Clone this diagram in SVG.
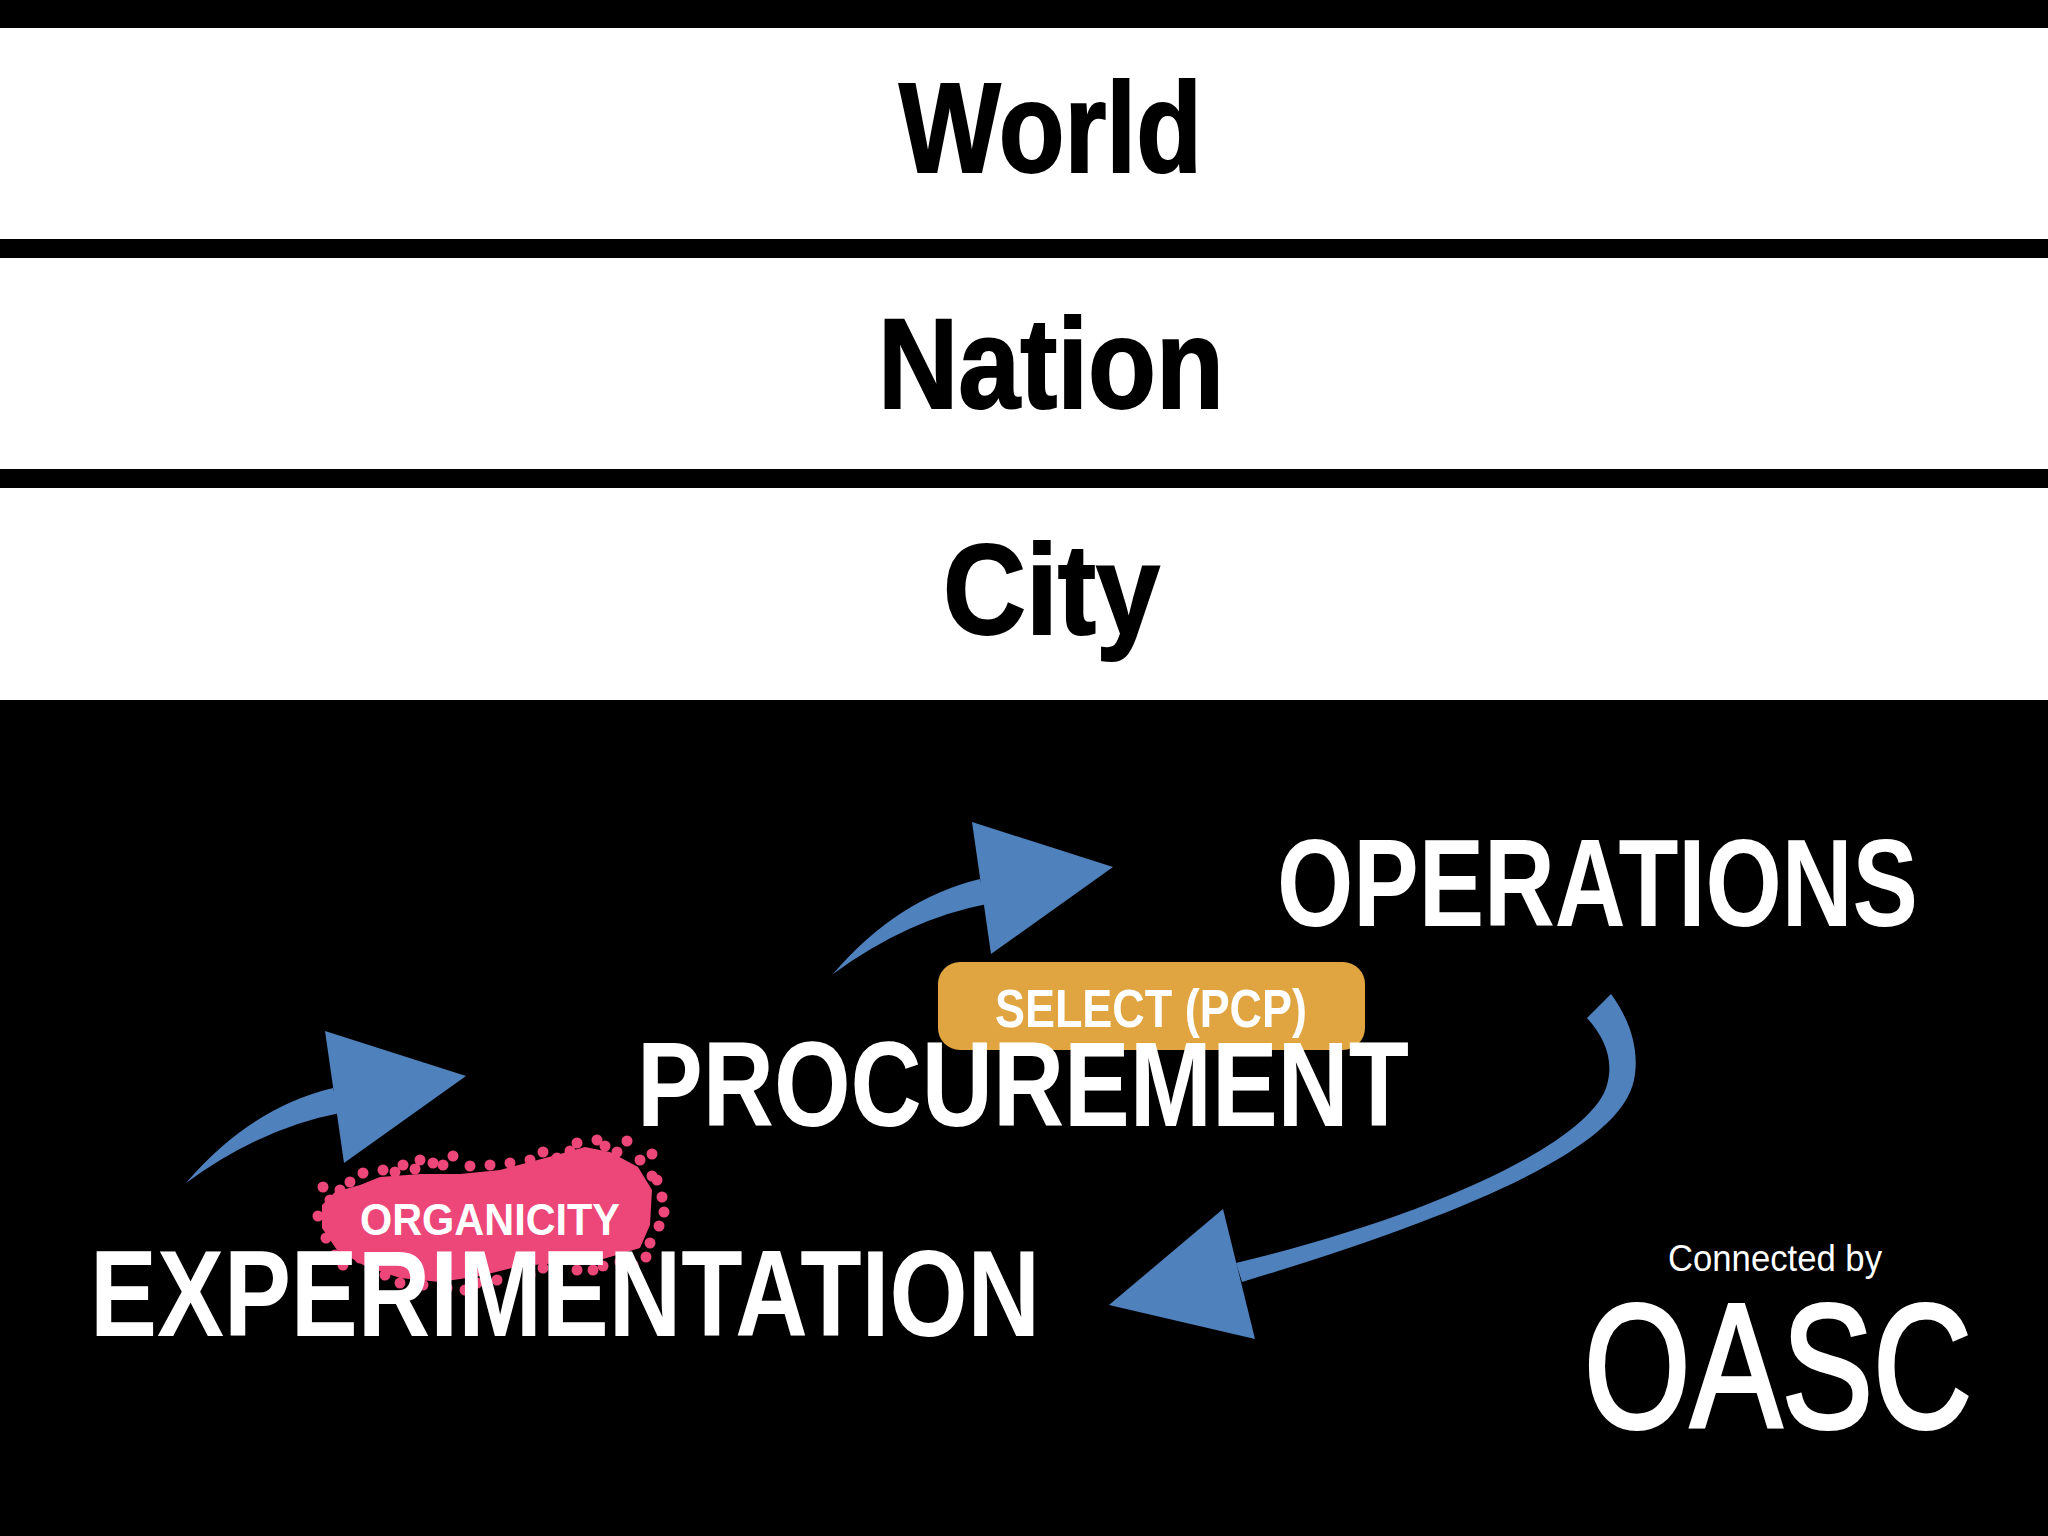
<svg xmlns="http://www.w3.org/2000/svg" xmlns:xlink="http://www.w3.org/1999/xlink" width="2048" height="1536" viewBox="0 0 2048 1536">
<style>
.band{fill:#ffffff}
.head{font-family:"Liberation Sans",Arial,sans-serif;font-weight:bold;font-size:128px;fill:#000000;stroke:#000000;stroke-width:2}
.big{font-family:"Liberation Sans",Arial,sans-serif;font-weight:bold;fill:#ffffff}
.thin{font-family:"Liberation Sans",Arial,sans-serif;font-weight:normal;fill:#ffffff}
.arrow{fill:#4F81BD}
.pink{fill:#EC4778}
</style>
<defs>
<g id="smallArrow">
<path d="M186,1183 Q250,1108 333,1088 L340,1113 Q261,1128 186,1183 Z"/>
<polygon points="325,1031 466,1076 344,1163"/>
</g>
</defs>
<rect x="0" y="0" width="2048" height="1536" fill="#000000"/>
<g id="bands">
<rect class="band" x="0" y="28" width="2048" height="211"/>
<rect class="band" x="0" y="258" width="2048" height="211"/>
<rect class="band" x="0" y="488" width="2048" height="212"/>
</g>
<g id="world"><text class="head" x="899" y="172" textLength="303" lengthAdjust="spacingAndGlyphs">World</text></g>
<g id="nation"><text class="head" x="878" y="408" textLength="346" lengthAdjust="spacingAndGlyphs">Nation</text></g>
<g id="city"><text class="head" x="943" y="634" textLength="217" lengthAdjust="spacingAndGlyphs">City</text></g>

<g id="connectors" class="arrow">
<use xlink:href="#smallArrow" href="#smallArrow"/>
<use xlink:href="#smallArrow" href="#smallArrow" transform="translate(647,-209)"/>
<path d="M1611,994 C1630,1020 1640,1050 1634,1080 C1620,1148 1470,1213 1242,1282 L1236,1263 C1440,1214 1592,1140 1607,1085 C1614,1060 1605,1038 1587,1018 Z"/>
<polygon points="1223,1209 1109,1305 1255,1339"/>
</g>

<g id="organicity">
<path class="pink" d="M322,1205 L335,1192 L360,1185 L380,1177 L420,1174 L460,1174 L500,1170 L530,1162 L560,1154 L585,1147 L610,1152 L638,1167 L652,1190 L650,1225 L640,1248 L600,1260 L560,1263 L520,1266 L480,1276 L440,1282 L400,1278 L365,1266 L337,1250 L322,1228 Z"/>
<g class="pink">
<circle cx="323" cy="1187" r="5.5"/><circle cx="363" cy="1173" r="5.5"/><circle cx="403" cy="1165" r="5.5"/>
<circle cx="420" cy="1160" r="5.5"/><circle cx="433" cy="1163" r="5.5"/><circle cx="443" cy="1165" r="5.5"/>
<circle cx="453" cy="1156" r="5.5"/><circle cx="490" cy="1165" r="5.5"/><circle cx="530" cy="1160" r="5.5"/>
<circle cx="543" cy="1152" r="5.5"/><circle cx="557" cy="1158" r="5.5"/><circle cx="570" cy="1151" r="5.5"/>
<circle cx="577" cy="1143" r="5.5"/><circle cx="597" cy="1140" r="5.5"/><circle cx="627" cy="1141" r="5.5"/>
<circle cx="652" cy="1154" r="5.5"/><circle cx="617" cy="1152" r="5.5"/><circle cx="640" cy="1160" r="5.5"/>
<circle cx="652" cy="1176" r="5.5"/><circle cx="662" cy="1197" r="5.5"/><circle cx="664" cy="1212" r="5.5"/>
<circle cx="659" cy="1226" r="5.5"/><circle cx="650" cy="1243" r="5.5"/><circle cx="646" cy="1257" r="5.5"/>
<circle cx="633" cy="1265" r="5.5"/><circle cx="620" cy="1262" r="5.5"/><circle cx="603" cy="1266" r="5.5"/>
<circle cx="593" cy="1270" r="5.5"/><circle cx="577" cy="1270" r="5.5"/><circle cx="543" cy="1268" r="5.5"/>
<circle cx="530" cy="1275" r="5.5"/><circle cx="497" cy="1280" r="5.5"/><circle cx="477" cy="1283" r="5.5"/>
<circle cx="465" cy="1290" r="5.5"/><circle cx="447" cy="1288" r="5.5"/><circle cx="423" cy="1285" r="5.5"/>
<circle cx="400" cy="1283" r="5.5"/><circle cx="385" cy="1275" r="5.5"/><circle cx="343" cy="1265" r="5.5"/>
<circle cx="326" cy="1238" r="5.5"/><circle cx="318" cy="1216" r="5.5"/><circle cx="330" cy="1200" r="5.5"/>
<circle cx="350" cy="1182" r="5.5"/><circle cx="383" cy="1170" r="5.5"/><circle cx="340" cy="1190" r="5.5"/>
<circle cx="470" cy="1166" r="5.5"/><circle cx="510" cy="1163" r="5.5"/><circle cx="605" cy="1146" r="5.5"/>
<circle cx="395" cy="1172" r="5.5"/><circle cx="415" cy="1169" r="5.5"/><circle cx="360" cy="1258" r="5.5"/>
<circle cx="335" cy="1255" r="5.5"/><circle cx="555" cy="1264" r="5.5"/><circle cx="657" cy="1180" r="5.5"/>
</g>
<text class="big" x="360" y="1235" font-size="45" textLength="260" lengthAdjust="spacingAndGlyphs">ORGANICITY</text>
</g>

<g id="experimentation"><text class="big" x="90" y="1336" font-size="122" textLength="950" lengthAdjust="spacingAndGlyphs">EXPERIMENTATION</text></g>

<g id="select">
<rect x="938" y="962" width="427" height="88" rx="22" ry="22" fill="#E0A441"/>
<text class="big" x="995" y="1027" font-size="54" textLength="312" lengthAdjust="spacingAndGlyphs">SELECT (PCP)</text>
</g>

<g id="procurement"><text class="big" x="637" y="1126" font-size="120" textLength="772" lengthAdjust="spacingAndGlyphs">PROCUREMENT</text></g>

<g id="operations"><text class="big" x="1277" y="926" font-size="124" textLength="641" lengthAdjust="spacingAndGlyphs">OPERATIONS</text></g>

<g id="oasc">
<text class="thin" x="1668" y="1271" font-size="36" textLength="214" lengthAdjust="spacingAndGlyphs">Connected by</text>
<text class="thin" x="1584" y="1427" font-size="177" textLength="388" lengthAdjust="spacingAndGlyphs" stroke="#ffffff" stroke-width="4">OASC</text>
</g>
</svg>
